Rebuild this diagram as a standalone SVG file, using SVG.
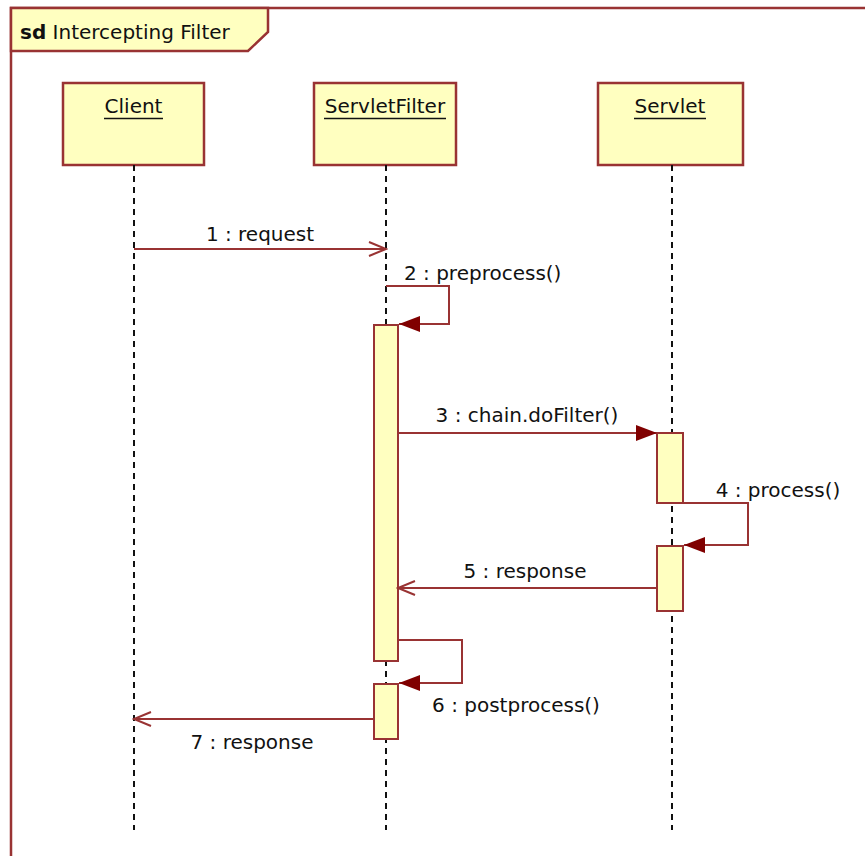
<svg xmlns="http://www.w3.org/2000/svg" width="865" height="856" viewBox="0 0 865 856">
<style>
text{font-family:"DejaVu Sans","Liberation Sans",sans-serif;font-size:20px;fill:#111}
.box{fill:#FFFFC0;stroke:#993333;stroke-width:2.5}
.act{fill:#FFFFC0;stroke:#993333;stroke-width:2}
.life{stroke:#111;stroke-width:2;stroke-dasharray:6 5;fill:none}
.msg{stroke:#993333;stroke-width:2;fill:none}
.frame{stroke:#993333;stroke-width:2.5;fill:none}
.ul{stroke:#111;stroke-width:1.6}
</style>
<defs>
<marker id="filled" markerUnits="userSpaceOnUse" markerWidth="22" markerHeight="16" refX="21" refY="8" orient="auto">
<path d="M0,0 L21,8 L0,16 z" fill="#800000"/>
</marker>
<marker id="open" markerUnits="userSpaceOnUse" markerWidth="20" markerHeight="18" refX="18" refY="8" orient="auto">
<path d="M1,1 L18,8 L1,15" fill="none" stroke="#993333" stroke-width="2"/>
</marker>
</defs>
<rect width="865" height="856" fill="#fff"/>
<g id="frame">
<path class="frame" d="M11,856 L11,8 L865,8"/>
<path d="M11,8 L268,8 L268,32 L248,51 L11,51 z" fill="#FFFFC0" stroke="#993333" stroke-width="2.5"/>
<text x="20" y="39"><tspan font-weight="bold">sd</tspan> Intercepting Filter</text>
</g>
<g id="client">
<rect class="box" x="63" y="83" width="141" height="82"/>
<text x="133.5" y="113" text-anchor="middle">Client</text>
<line class="ul" x1="104" y1="118.5" x2="163" y2="118.5"/>
<line class="life" x1="134" y1="165" x2="134" y2="830"/>
</g>
<g id="servletfilter">
<rect class="box" x="314" y="83" width="142" height="82"/>
<text x="385" y="113" text-anchor="middle">ServletFilter</text>
<line class="ul" x1="324" y1="118.5" x2="446" y2="118.5"/>
<line class="life" x1="386" y1="165" x2="386" y2="830"/>
<rect class="act" x="374" y="325" width="24" height="336"/>
<rect class="act" x="374" y="684" width="24" height="55"/>
</g>
<g id="servlet">
<rect class="box" x="598" y="83" width="145" height="82"/>
<text x="670" y="113" text-anchor="middle">Servlet</text>
<line class="ul" x1="634" y1="118.5" x2="706" y2="118.5"/>
<line class="life" x1="672" y1="165" x2="672" y2="830"/>
<rect class="act" x="657" y="433" width="26" height="70"/>
<rect class="act" x="657" y="546" width="26" height="65"/>
</g>
<g id="connectors">
<line class="msg" x1="134" y1="249" x2="386" y2="249" marker-end="url(#open)"/>
<text x="260" y="241" text-anchor="middle">1 : request</text>
<path class="msg" d="M386,286 L449,286 L449,324 L399,324" marker-end="url(#filled)"/>
<text x="404" y="280">2 : preprocess()</text>
<line class="msg" x1="399" y1="433" x2="657" y2="433" marker-end="url(#filled)"/>
<text x="527" y="422" text-anchor="middle">3 : chain.doFilter()</text>
<path class="msg" d="M683,503 L748,503 L748,545 L684,545" marker-end="url(#filled)"/>
<text x="778" y="497" text-anchor="middle">4 : process()</text>
<line class="msg" x1="657" y1="588" x2="398" y2="588" marker-end="url(#open)"/>
<text x="525" y="578" text-anchor="middle">5 : response</text>
<path class="msg" d="M398,640 L462,640 L462,683 L399,683" marker-end="url(#filled)"/>
<text x="516" y="712" text-anchor="middle">6 : postprocess()</text>
<line class="msg" x1="374" y1="719" x2="134" y2="719" marker-end="url(#open)"/>
<text x="252" y="749" text-anchor="middle">7 : response</text>
</g>
</svg>
